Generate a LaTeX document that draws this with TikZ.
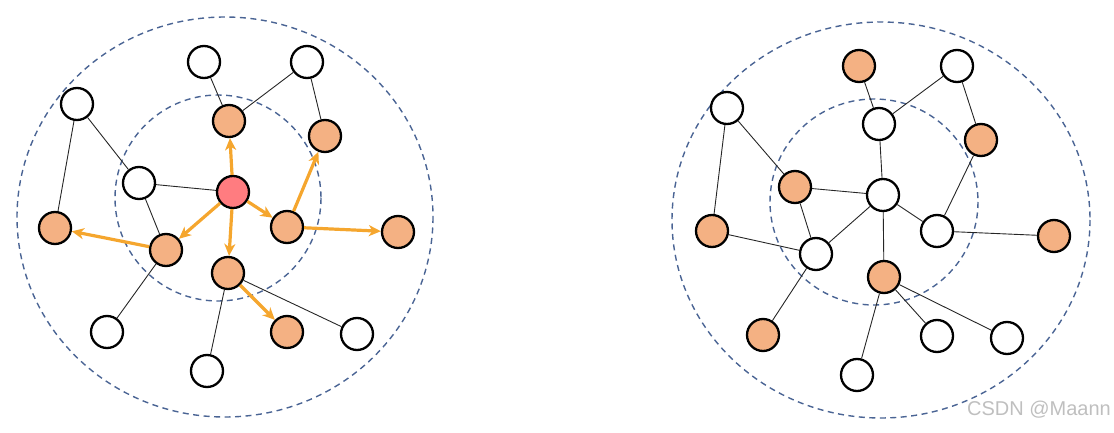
\documentclass[tikz,border=0pt]{standalone}
\usepackage{fontspec}
\newfontfamily\wmfont{Liberation Sans}
\usetikzlibrary{arrows.meta}
\definecolor{nodeor}{HTML}{F4B183}
\definecolor{nodered}{HTML}{FF7C80}
\definecolor{arrowor}{HTML}{F5A62E}
\definecolor{ringblue}{HTML}{4A6494}
\begin{document}
\begin{tikzpicture}[x=1pt,y=-1pt,
  vw/.style={circle,draw=black,line width=2.3pt,fill=white,minimum size=32pt,inner sep=0pt},
  vo/.style={vw,fill=nodeor},
  vr/.style={vw,fill=nodered},
  ring/.style={draw=ringblue,line width=1.4pt,dash pattern=on 6pt off 4.5pt},
  edge/.style={draw=black!85,line width=0.9pt},
  oarr/.style={draw=arrowor,line width=3.2pt,-{Stealth[length=12pt,width=11pt,inset=3.5pt]}}]
\useasboundingbox (0,0) rectangle (1114,433);
% rings
\draw[ring] (225,217) ellipse [x radius=208,y radius=200];
\draw[ring] (218,198) ellipse [x radius=103,y radius=103];
\draw[ring] (881,220) ellipse [x radius=209,y radius=198];
\draw[ring] (874,202) ellipse [x radius=104,y radius=103];
% left graph nodes
\node[vw] (lw1) at (204,62) {};
\node[vw] (lw2) at (307,62) {};
\node[vw] (lw3) at (77,104) {};
\node[vo] (lo1) at (229,121) {};
\node[vo] (lo2) at (325,136) {};
\node[vw] (lw4) at (139,183) {};
\node[vr] (lr) at (233,192) {};
\node[vo] (lo3) at (55,228) {};
\node[vo] (lo4) at (287,227) {};
\node[vo] (lo5) at (398,232) {};
\node[vo] (lo6) at (166,250) {};
\node[vo] (lo7) at (228,273) {};
\node[vw] (lw5) at (107,332) {};
\node[vo] (lo8) at (287,332) {};
\node[vw] (lw6) at (357,334) {};
\node[vw] (lw7) at (207,371) {};
% left graph edges
\path[edge] (lw1) -- (lo1);
\path[edge] (lw2) -- (lo1);
\path[edge] (lw2) -- (lo2);
\path[edge] (lw3) -- (lo3);
\path[edge] (lw3) -- (lw4);
\path[edge] (lw4) -- (lr);
\path[edge] (lw4) -- (lo6);
\path[edge] (lo6) -- (lw5);
\path[edge] (lo7) -- (lw6);
\path[edge] (lo7) -- (lw7);
\path[oarr] (lr) -- (lo1);
\path[oarr] (lr) -- (lo4);
\path[oarr] (lr) -- (lo6);
\path[oarr] (lr) -- (lo7);
\path[oarr] (lo4) -- (lo2);
\path[oarr] (lo4) -- (lo5);
\path[oarr] (lo6) -- (lo3);
\path[oarr] (lo7) -- (lo8);
% right graph nodes
\node[vo] (ro1) at (859,66) {};
\node[vw] (rw1) at (957,66) {};
\node[vw] (rw2) at (727,108) {};
\node[vw] (rw3) at (879,124) {};
\node[vo] (ro2) at (981,140) {};
\node[vo] (ro3) at (795,187) {};
\node[vw] (rc) at (883,195) {};
\node[vo] (ro4) at (712,231) {};
\node[vw] (rw4) at (937,231) {};
\node[vo] (ro5) at (1054,236) {};
\node[vw] (rw5) at (816,254) {};
\node[vo] (ro6) at (884,277) {};
\node[vo] (ro7) at (763,335) {};
\node[vw] (rw6) at (937,336) {};
\node[vw] (rw7) at (1007,338) {};
\node[vw] (rw8) at (857,375) {};
% right graph edges
\path[edge] (ro1) -- (rw3);
\path[edge] (rw1) -- (rw3);
\path[edge] (rw1) -- (ro2);
\path[edge] (rw2) -- (ro4);
\path[edge] (rw2) -- (ro3);
\path[edge] (ro3) -- (rc);
\path[edge] (ro3) -- (rw5);
\path[edge] (rc) -- (rw3);
\path[edge] (rc) -- (rw4);
\path[edge] (rc) -- (rw5);
\path[edge] (rc) -- (ro6);
\path[edge] (ro2) -- (rw4);
\path[edge] (rw4) -- (ro5);
\path[edge] (ro4) -- (rw5);
\path[edge] (rw5) -- (ro7);
\path[edge] (ro6) -- (rw6);
\path[edge] (ro6) -- (rw7);
\path[edge] (ro6) -- (rw8);
% watermark
\node[anchor=east,text=black!25,font=\wmfont\fontsize{20}{24}\selectfont,inner sep=0pt] (wm) at (1111,410) {CSDN @Maann};
\end{tikzpicture}
\end{document}
